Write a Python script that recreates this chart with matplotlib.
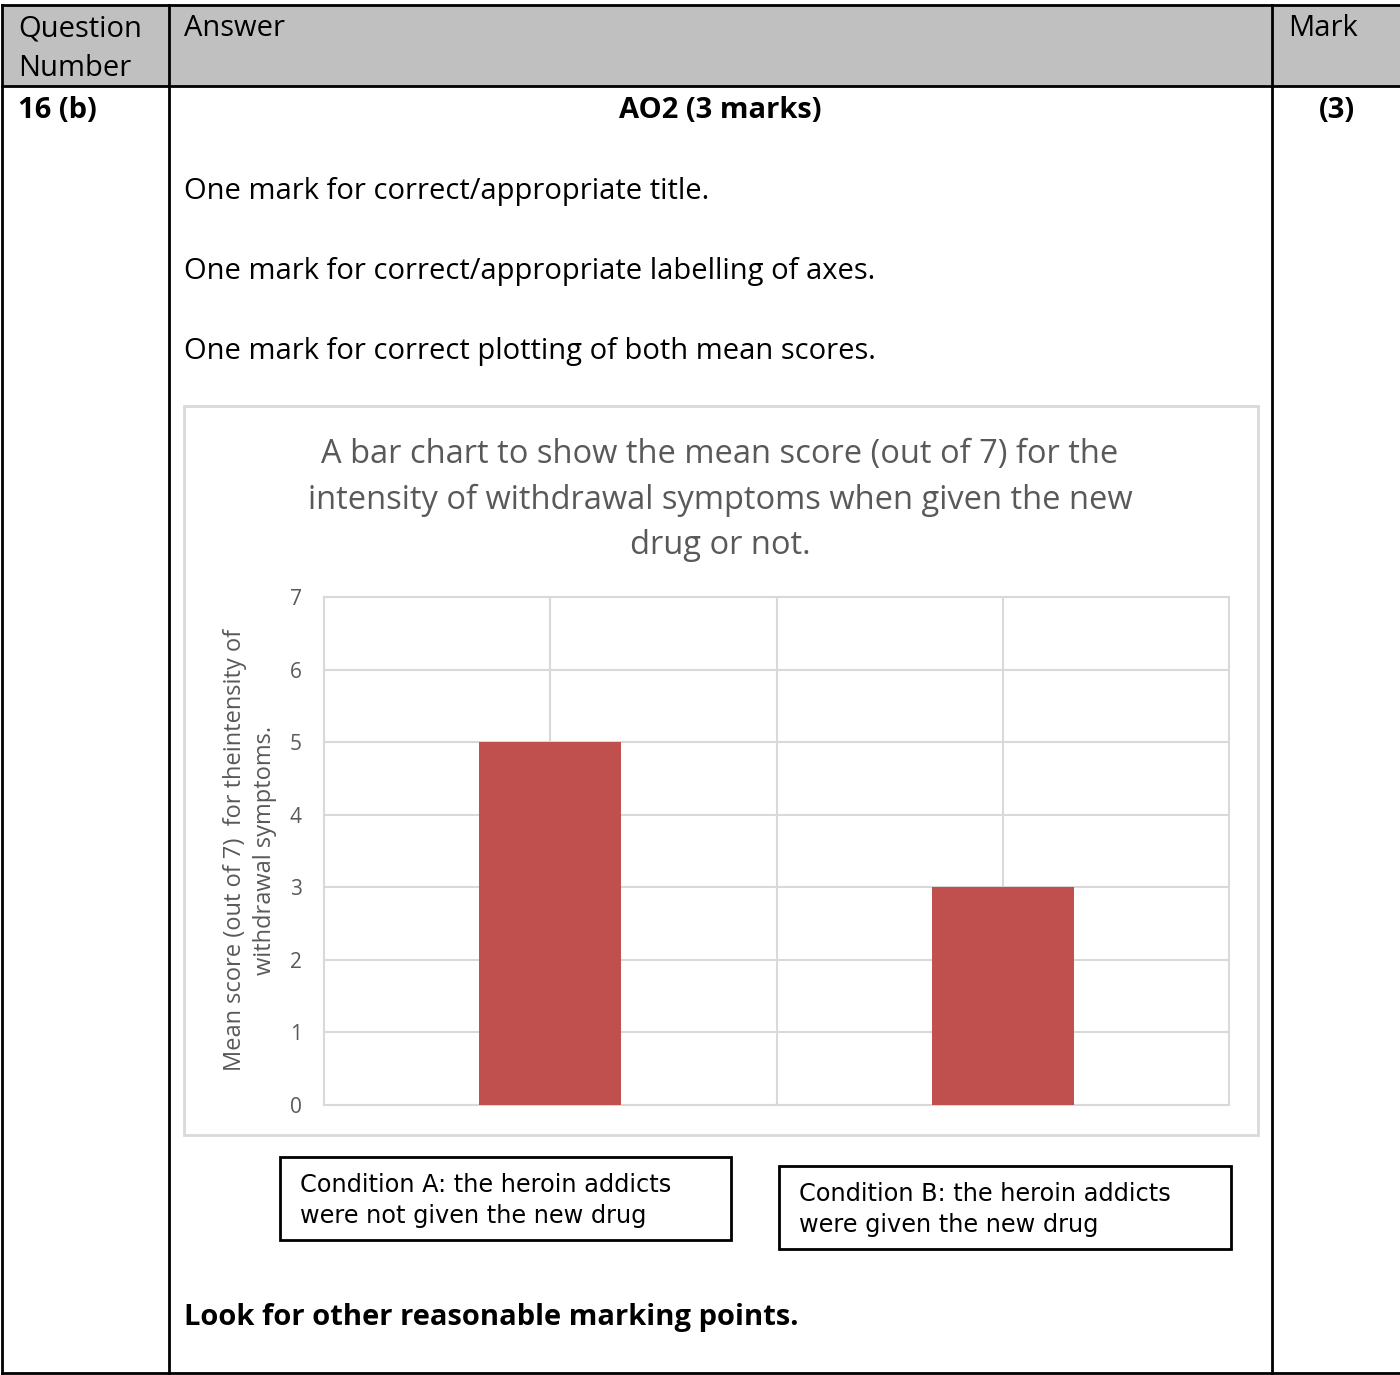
import matplotlib.pyplot as plt
from matplotlib.patches import Rectangle
from matplotlib.lines import Line2D

# data
categories = ["Condition A", "Condition B"]
mean_scores = [5, 3]
y_ticks = [0, 1, 2, 3, 4, 5, 6, 7]
condition_labels = ["Condition A: the heroin addicts\nwere not given the new drug",
                    "Condition B: the heroin addicts\nwere given the new drug"]
mark_lines = ["One mark for correct/appropriate title.",
              "One mark for correct/appropriate labelling of axes.",
              "One mark for correct plotting of both mean scores."]

W, H = 1400, 1375
fig = plt.figure(figsize=(W / 100, H / 100), dpi=100)
plt.rcParams['font.family'] = ['Open Sans', 'DejaVu Sans']


def fx(px):
    return px / W


def fy(py):
    return 1 - py / H


def hline(x0, x1, y, **kw):
    fig.add_artist(Line2D([fx(x0), fx(x1)], [fy(y), fy(y)], transform=fig.transFigure, **kw))


def vline(x, y0, y1, **kw):
    fig.add_artist(Line2D([fx(x), fx(x)], [fy(y0), fy(y1)], transform=fig.transFigure, **kw))


# table header background
fig.add_artist(Rectangle((fx(2), fy(86)), fx(1400), 81 / H, transform=fig.transFigure,
                         facecolor="#c0c0c0", edgecolor="none", zorder=0))
lw = 2
hline(2, 1400, 5, color="black", lw=lw)
hline(2, 1400, 86, color="black", lw=lw)
hline(2, 1400, 1373, color="black", lw=lw)
vline(2, 5, 1373, color="black", lw=lw)
vline(169, 5, 1373, color="black", lw=lw)
vline(1272, 5, 1373, color="black", lw=lw)

fs = 21
fig.text(fx(18), fy(29), "Question", fontsize=fs, va="center", ha="left")
fig.text(fx(18), fy(68), "Number", fontsize=fs, va="center", ha="left")
fig.text(fx(184), fy(29), "Answer", fontsize=fs, va="center", ha="left")
fig.text(fx(1288), fy(29), "Mark", fontsize=fs, va="center", ha="left")
fig.text(fx(18), fy(110), "16 (b)", fontsize=fs, va="center", ha="left", weight="bold")
fig.text(fx(720), fy(110), "AO2 (3 marks)", fontsize=fs, va="center", ha="center", weight="bold")
fig.text(fx(1337), fy(110), "(3)", fontsize=fs, va="center", ha="center", weight="bold")
for i, line in enumerate(mark_lines):
    fig.text(fx(184), fy(191 + 80 * i), line, fontsize=fs, va="center", ha="left")
fig.text(fx(184), fy(1317), "Look for other reasonable marking points.", fontsize=fs,
         va="center", ha="left", weight="bold")

# chart frame
fig.add_artist(Rectangle((fx(184), fy(1135)), fx(1258 - 184), (1135 - 406) / H,
                         transform=fig.transFigure, facecolor="white",
                         edgecolor="#d9d9d9", lw=2, zorder=1))
grey = "#595959"
fig.text(fx(720), fy(500), "A bar chart to show the mean score (out of 7) for the\n"
         "intensity of withdrawal symptoms when given the new\ndrug or not.",
         fontsize=23.5, color=grey, ha="center", va="center", linespacing=1.5, zorder=3)

ax = fig.add_axes([fx(324), fy(1105), fx(1229 - 324), (1105 - 597) / H], zorder=2)
x = list(range(len(categories)))
ax.bar(x, mean_scores, width=0.314, color="#c0504d", zorder=3)
ax.set_xlim(-0.5, 1.5)
ax.set_ylim(0, 7)
ax.set_yticks(y_ticks)
ax.set_xticks([0, 1])
ax.set_xticks([0.5], minor=True)
ax.set_xticklabels([])
ax.grid(True, which="both", color="#d9d9d9", lw=1.5, zorder=0)
ax.tick_params(which="both", length=0, labelsize=15, labelcolor=grey, pad=16)
for s in ax.spines.values():
    s.set_color("#d9d9d9")
    s.set_linewidth(1.5)

fig.text(fx(250), fy(850), "Mean score (out of 7)  for theintensity of\nwithdrawal symptoms.",
         rotation=90, fontsize=17, color=grey, ha="center", va="center",
         multialignment="center", linespacing=1.36, zorder=3)

# condition boxes
boxes = [(280, 1157, 731, 1240), (779, 1166, 1231, 1249)]
for (x0, y0, x1, y1), label in zip(boxes, condition_labels):
    fig.add_artist(Rectangle((fx(x0), fy(y1)), fx(x1 - x0), (y1 - y0) / H,
                             transform=fig.transFigure, facecolor="white",
                             edgecolor="black", lw=2))
    fig.text(fx(x0 + 20), fy((y0 + y1) / 2 + 2), label, fontsize=17.3, family="DejaVu Sans",
             ha="left", va="center", linespacing=1.36)

fig.savefig("out.png", dpi=100)
